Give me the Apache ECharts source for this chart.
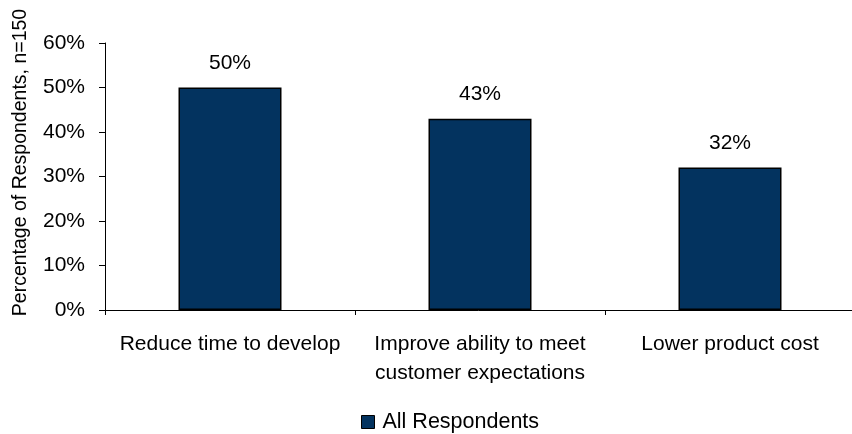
<!DOCTYPE html>
<html>
<head>
<meta charset="utf-8">
<script src="https://cdn.jsdelivr.net/npm/echarts@6/dist/echarts.min.js"></script>
<style>
html,body{margin:0;padding:0;background:#fff;}
#chart{width:852px;height:434px;}
</style>
</head>
<body>
<div id="chart"></div>
<script>
const categories = ['Reduce time to develop', 'Improve ability to meet\ncustomer expectations', 'Lower product cost'];
const seriesName = 'All Respondents';
const values = [50, 43, 32];
const yAxisTitle = 'Percentage of Respondents, n=150';

const FONT = '"Liberation Sans", Arial, sans-serif';
const FS = 21;
const chart = echarts.init(document.getElementById('chart'), null, {renderer: 'canvas'});
chart.setOption({
  animation: false,
  backgroundColor: '#ffffff',
  textStyle: {fontFamily: FONT},
  grid: {left: 105, top: 43, width: 750, bottom: 124, outerBoundsMode: 'none', containLabel: false},
  legend: {
    data: [seriesName],
    left: 361, top: 411, padding: 0,
    icon: 'rect', itemWidth: 13, itemHeight: 13, itemGap: 8,
    itemStyle: {borderColor: '#000', borderWidth: 1},
    textStyle: {fontFamily: FONT, fontSize: 21.5, color: '#000', padding: [0, 0, 0, 3]}
  },
  xAxis: {
    type: 'category',
    data: categories,
    axisLine: {lineStyle: {color: '#000', width: 1}},
    axisTick: {show: true, length: 5, lineStyle: {color: '#000'}},
    axisLabel: {interval: 0, margin: 20, color: '#000', fontFamily: FONT, fontSize: FS, lineHeight: 29}
  },
  yAxis: {
    type: 'value',
    min: 0, max: 60, interval: 10,
    name: yAxisTitle,
    nameLocation: 'middle',
    nameRotate: 90,
    nameGap: 74,
    nameTextStyle: {fontFamily: FONT, fontSize: 19.5, color: '#000', padding: [0, 0, 0, 28]},
    axisLine: {show: true, lineStyle: {color: '#000', width: 1}},
    axisTick: {show: true, length: 6, lineStyle: {color: '#000'}},
    splitLine: {show: false},
    axisLabel: {formatter: '{value}%', margin: 20, color: '#000', fontFamily: FONT, fontSize: FS}
  },
  series: [{
    name: seriesName,
    type: 'bar',
    data: values,
    barWidth: 103,
    itemStyle: {color: '#03335f', borderColor: '#000', borderWidth: 1.5},
    label: {show: true, position: 'top', distance: 14, formatter: '{c}%', color: '#000', fontFamily: FONT, fontSize: FS}
  }]
});
</script>
</body>
</html>
